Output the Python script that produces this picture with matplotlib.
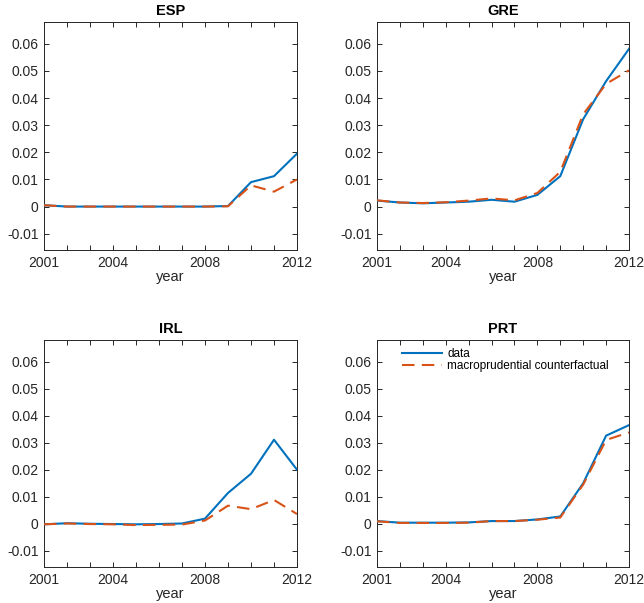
import numpy as np
import matplotlib
matplotlib.use("Agg")
import matplotlib.pyplot as plt

plt.rcParams["font.family"] = ["Liberation Sans", "DejaVu Sans"]

YEARS = list(range(2001, 2013))
LABELED_YEARS = [2001, 2004, 2008, 2012]
COUNTRIES = ["ESP", "GRE", "IRL", "PRT"]

ESP_DATA = [0.0005, 0.0, 0.0, 0.0, 0.0, 0.0, 0.0, 0.0, 0.0002, 0.0090, 0.0112, 0.0195]
ESP_CF   = [0.0005, 0.0, 0.0, 0.0, 0.0, 0.0, 0.0, 0.0, 0.0001, 0.0078, 0.0055, 0.0100]
GRE_DATA = [0.0022, 0.0015, 0.0012, 0.0015, 0.0018, 0.0025, 0.0018, 0.0043, 0.0112, 0.0322, 0.0462, 0.0581]
GRE_CF   = [0.0023, 0.0015, 0.0013, 0.0016, 0.0022, 0.0030, 0.0023, 0.0050, 0.0128, 0.0340, 0.0452, 0.0502]
IRL_DATA = [-0.0002, 0.0002, 0.0, -0.0001, -0.0002, -0.0001, 0.0001, 0.0019, 0.0114, 0.0185, 0.0311, 0.0200]
IRL_CF   = [-0.0002, 0.0001, -0.0001, -0.0002, -0.0005, -0.0004, -0.0003, 0.0012, 0.0067, 0.0054, 0.0088, 0.0036]
PRT_DATA = [0.0010, 0.0004, 0.0004, 0.0004, 0.0005, 0.0010, 0.0010, 0.0016, 0.0027, 0.0150, 0.0326, 0.0365]
PRT_CF   = [0.0009, 0.0003, 0.0003, 0.0003, 0.0004, 0.0010, 0.0010, 0.0015, 0.0023, 0.0145, 0.0310, 0.0338]

SERIES = {"ESP": (ESP_DATA, ESP_CF), "GRE": (GRE_DATA, GRE_CF),
          "IRL": (IRL_DATA, IRL_CF), "PRT": (PRT_DATA, PRT_CF)}

BLUE = "#0072BD"
ORANGE = "#D95319"
AX_COL = "#262626"
YTICKS = [-0.01, 0, 0.01, 0.02, 0.03, 0.04, 0.05, 0.06]

fig = plt.figure(figsize=(6.44, 6.03), dpi=100)
W, H = 644, 603
# panel boxes in pixels: left, top, right, bottom
BOXES = {"ESP": (44, 22, 297, 250), "GRE": (377, 22, 629, 250),
         "IRL": (44, 340, 297, 567), "PRT": (377, 340, 629, 567)}

for c in COUNTRIES:
    l, t, r, b = BOXES[c]
    ax = fig.add_axes([l / W, 1 - b / H, (r - l) / W, (b - t) / H])
    data, cf = SERIES[c]
    ax.plot(YEARS, data, color=BLUE, lw=1.5, label="data", zorder=3)
    ax.plot(YEARS, cf, color=ORANGE, lw=1.5, ls=(0, (6, 3.5)),
            label="macroprudential counterfactual", zorder=4)
    ax.set_xlim(2001, 2012)
    ax.set_ylim(-0.016, 0.068)
    ax.set_xticks(YEARS)
    ax.set_xticklabels([str(y) if y in LABELED_YEARS else "" for y in YEARS])
    ax.set_yticks(YTICKS)
    ax.set_yticklabels(["-0.01", "0", "0.01", "0.02", "0.03", "0.04", "0.05", "0.06"])
    ax.tick_params(direction="in", top=True, right=True, length=3.5, width=0.7,
                   colors=AX_COL, labelsize=10, pad=4)
    for s in ax.spines.values():
        s.set_color(AX_COL)
        s.set_linewidth(0.7)
    ax.set_title(c, fontsize=10.5, fontweight="bold", pad=5)
    ax.set_xlabel("year", fontsize=10.5, color=AX_COL, labelpad=0)
    if c == "PRT":
        ax.legend(loc="upper left", bbox_to_anchor=(0.07, 1.0), frameon=False,
                  fontsize=8.5, handlelength=3.4, handletextpad=0.4,
                  labelspacing=0.05, borderaxespad=0.25)

fig.savefig("out.png", dpi=100)
